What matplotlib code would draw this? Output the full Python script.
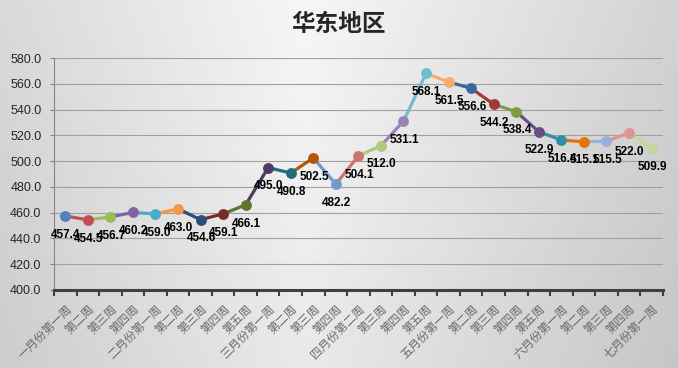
import numpy as np
import matplotlib
matplotlib.use("Agg")
import matplotlib.pyplot as plt

# weekly values
weeks = ["一月份第一周", "第二周", "第三周", "第四周",
         "二月份第一周", "第二周", "第三周", "第四周", "第五周",
         "三月份第一周", "第二周", "第三周", "第四周",
         "四月份第二周", "第三周", "第四周", "第五周",
         "五月份第一周", "第二周", "第三周", "第四周", "第五周",
         "六月份第一周", "第二周", "第三周", "第四周",
         "七月份第一周"]
prices = [457.4, 454.5, 456.7, 460.2, 459.0, 463.0, 454.6, 459.1, 466.1,
          495.0, 490.8, 502.5, 482.2, 504.1, 512.0, 531.1, 568.1, 561.5,
          556.6, 544.2, 538.4, 522.9, 516.4, 515.1, 515.5, 522.0, 509.9]
title = "华东地区"
y_ticks = [400, 420, 440, 460, 480, 500, 520, 540, 560, 580]

# Excel "vary colors by point" palette
palette = ["#4F81BD", "#C0504D", "#9BBB59", "#8064A2", "#4BACC6", "#F79646",
           "#2C4D75", "#772C2A", "#5F7530", "#4D3B62", "#276A7C", "#B65708",
           "#729ACA", "#CD7371", "#AFC97A", "#9983B5", "#6FBDD1", "#F9AB6B",
           "#3A679C", "#9F3B38", "#7E9D40", "#664F83", "#358EA6", "#E0750A",
           "#95B3D7", "#D99694", "#C3D69B"]

cjk = ["Noto Sans CJK SC", "DejaVu Sans"]

fig = plt.figure(figsize=(6.78, 3.68), dpi=100)

# gray gradient background
bg = fig.add_axes([0, 0, 1, 1], zorder=-10)
gx = np.linspace(0, 1, 300)
gy = np.linspace(0, 1, 160)
X, Y = np.meshgrid(gx, gy)
shade = 0.965 - 0.14 * np.abs(X - 0.45) / 0.55 - 0.05 * Y
bg.imshow(shade, cmap="gray", vmin=0, vmax=1, aspect="auto",
          extent=[0, 1, 0, 1], origin="upper")
bg.set_xlim(0, 1)
bg.set_ylim(0, 1)
bg.axis("off")

ax = fig.add_axes([0.0796, 0.212, 0.898, 0.630])
ax.set_facecolor("none")

x = np.arange(len(prices))
for i in range(1, len(prices)):
    ax.plot(x[i - 1:i + 1], prices[i - 1:i + 1], color=palette[i],
            lw=2.3, solid_capstyle="round", zorder=2)
for i in range(len(prices)):
    ax.plot(x[i], prices[i], "o", color=palette[i], ms=6.8, zorder=3)
    ax.annotate(f"{prices[i]:.1f}", (x[i], prices[i]), xytext=(0.5, -13.5),
                textcoords="offset points", ha="center", va="center",
                fontsize=8.5, fontweight="bold", family="Liberation Sans",
                color="black", zorder=4)

ax.set_xlim(-0.5, len(prices) - 0.5)
ax.set_ylim(400, 580)
ax.set_yticks(y_ticks)
ax.set_yticklabels([f"{v:.1f}" for v in y_ticks], family="Liberation Sans",
                   fontsize=9, color="#262626")
ax.yaxis.grid(True, color="#a0a0a0", lw=0.8)
ax.set_axisbelow(True)

ax.set_xticks(np.arange(len(prices) + 1) - 0.5)
ax.set_xticklabels([])
ax.set_xticks(x, minor=True)
ax.set_xticklabels(weeks, minor=True, rotation=45, ha="right", va="top",
                   rotation_mode="anchor", family=cjk, fontsize=8.5,
                   color="#6a6a6a")
ax.tick_params(axis="x", which="major", length=4, width=1.5, color="#404040",
               direction="out")
ax.tick_params(axis="x", which="minor", length=0, pad=9)
ax.tick_params(axis="y", length=3, color="#868686", pad=6)

for s in ("top", "right"):
    ax.spines[s].set_visible(False)
ax.spines["bottom"].set_color("#404040")
ax.spines["bottom"].set_linewidth(2.2)
ax.spines["left"].set_color("#868686")
ax.spines["left"].set_linewidth(0.8)

fig.text(0.5, 0.935, title, ha="center", va="center", family=cjk,
         fontsize=17, fontweight="bold", color="#262626")

fig.savefig("out.png", dpi=100)
